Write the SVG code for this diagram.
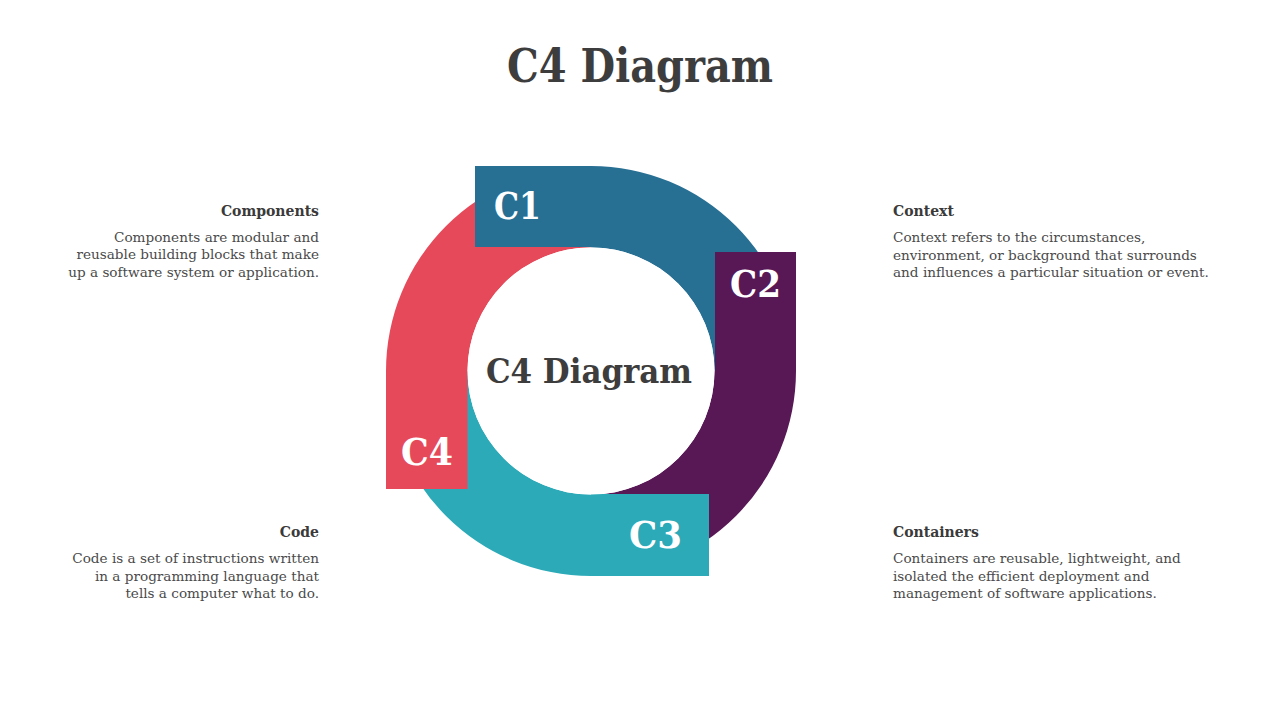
<svg xmlns="http://www.w3.org/2000/svg" width="1280" height="720" viewBox="0 0 1280 720">
<style>
.title{font-family:"DejaVu Serif","Liberation Serif",serif;font-weight:bold;fill:#3d3d3d}
.lab{font-family:"DejaVu Serif","Liberation Serif",serif;font-weight:bold;fill:#ffffff;font-size:38px}
.h{font-family:"DejaVu Serif","Liberation Serif",serif;font-weight:bold;fill:#3a3a3a;font-size:14px}
.b{font-family:"DejaVu Serif","Liberation Serif",serif;fill:#4a4a4a;font-size:13.6px}
.r{text-anchor:end}
.blue{fill:#286f94}.purple{fill:#581855}.teal{fill:#2caab8}.red{fill:#e64a5a}
</style>
<rect width="1280" height="720" fill="#ffffff"/>
<text class="title" x="640" y="82" font-size="46" text-anchor="middle" textLength="266" lengthAdjust="spacingAndGlyphs">C4 Diagram</text>
<g id="rings">
<path class="blue" d="M591,166 A205,205 0 0 1 796,371 L714.5,371 A123.5,123.5 0 0 0 591,247.5 Z"/>
<path class="purple" d="M796,371 A205,205 0 0 1 591,576 L591,494.5 A123.5,123.5 0 0 0 714.5,371 Z"/>
<path class="teal" d="M591,576 A205,205 0 0 1 386,371 L467.5,371 A123.5,123.5 0 0 0 591,494.5 Z"/>
<path class="red" d="M386,371 A205,205 0 0 1 591,166 L591,247.5 A123.5,123.5 0 0 0 467.5,371 Z"/>
</g>
<g id="c1">
<rect class="blue" x="475" y="166" width="116" height="81"/>
<text class="lab" x="494" y="219" textLength="47" lengthAdjust="spacingAndGlyphs">C1</text>
</g>
<g id="c2">
<rect class="purple" x="715" y="252" width="81" height="119"/>
<text class="lab" x="730" y="297" textLength="51" lengthAdjust="spacingAndGlyphs">C2</text>
</g>
<g id="c3">
<rect class="teal" x="591" y="494" width="118" height="82"/>
<text class="lab" x="629" y="548" textLength="53" lengthAdjust="spacingAndGlyphs">C3</text>
</g>
<g id="c4">
<rect class="red" x="386" y="371" width="81.5" height="118"/>
<text class="lab" x="401" y="465" textLength="52" lengthAdjust="spacingAndGlyphs">C4</text>
</g>
<g id="center">
<circle cx="591" cy="371" r="123.5" fill="#ffffff"/>
<text class="title" x="589" y="383" font-size="34" text-anchor="middle" textLength="206" lengthAdjust="spacingAndGlyphs">C4 Diagram</text>
</g>
<g id="components">
<text class="h r" x="319" y="216">Components</text>
<text class="b r" x="319" y="242">Components are modular and</text>
<text class="b r" x="319" y="259">reusable building blocks that make</text>
<text class="b r" x="319" y="277">up a software system or application.</text>
</g>
<g id="context">
<text class="h" x="893" y="216">Context</text>
<text class="b" x="893" y="242">Context refers to the circumstances,</text>
<text class="b" x="893" y="260">environment, or background that surrounds</text>
<text class="b" x="893" y="277">and influences a particular situation or event.</text>
</g>
<g id="code">
<text class="h r" x="319" y="537">Code</text>
<text class="b r" x="319" y="563">Code is a set of instructions written</text>
<text class="b r" x="319" y="581">in a programming language that</text>
<text class="b r" x="319" y="598">tells a computer what to do.</text>
</g>
<g id="containers">
<text class="h" x="893" y="537">Containers</text>
<text class="b" x="893" y="563">Containers are reusable, lightweight, and</text>
<text class="b" x="893" y="581">isolated the efficient deployment and</text>
<text class="b" x="893" y="598">management of software applications.</text>
</g>
</svg>
